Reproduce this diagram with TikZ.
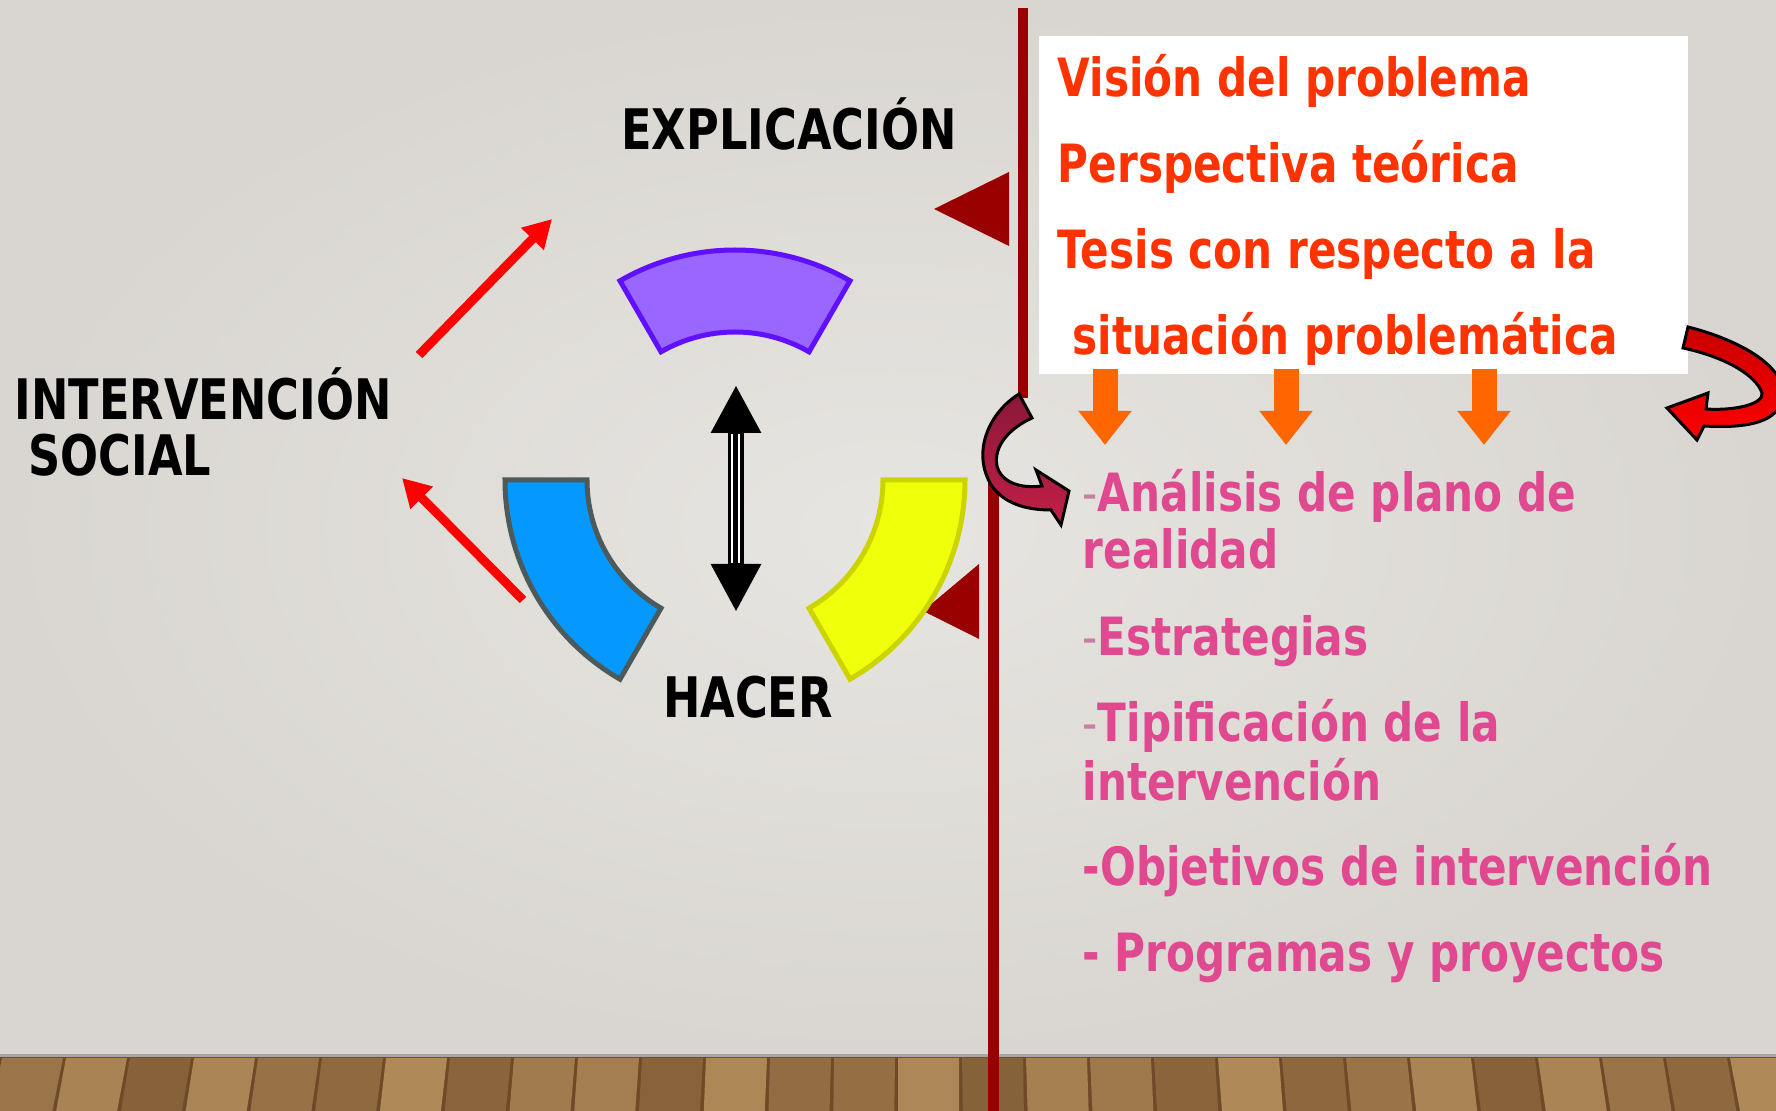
\documentclass[tikz,border=0pt]{standalone}
\usepackage{fontspec}
\setmainfont{DejaVu Sans}[FakeStretch=0.8]
\usetikzlibrary{arrows.meta}

\definecolor{wallgray}{HTML}{E7E5E1}
\definecolor{walledge}{HTML}{D9D6D1}
\definecolor{linered}{HTML}{990000}
\definecolor{visionred}{HTML}{FF3300}
\definecolor{itempink}{HTML}{E0488F}
\definecolor{dashpink}{HTML}{C97FA3}
\definecolor{tipsorange}{HTML}{FF6600}
\definecolor{secpurple}{HTML}{9966FF}
\definecolor{secpurpleline}{HTML}{6010FF}
\definecolor{secblue}{HTML}{0599FF}
\definecolor{secblueline}{HTML}{4C5A5C}
\definecolor{secyellow}{HTML}{F0FF0A}
\definecolor{secyellowline}{HTML}{CCD400}
\definecolor{curldark}{HTML}{8A1838}
\definecolor{curllight}{HTML}{C31F47}
\definecolor{loopdark}{HTML}{C80000}
\definecolor{woodlight}{HTML}{B8925F}
\definecolor{wooddark}{HTML}{6E4A28}

\tikzset{
  blacklabel/.style={font=\fontsize{15.9}{19}\selectfont\bfseries, inner sep=0pt},
  boxline/.style={font=\fontsize{15}{18}\selectfont\bfseries, text=visionred, inner sep=0pt, anchor=base west},
  itemline/.style={font=\fontsize{15}{18}\selectfont\bfseries, text=itempink, inner sep=0pt, anchor=base west},
  redpush/.style={red, line width=0.9mm, -{Triangle[width=3mm,length=2.8mm]}},
  downpoint/.style={tipsorange, line width=2.5mm, -{Triangle[width=5.1mm,length=3.4mm]}},
  ringline/.style={line width=0.5mm, line join=miter}
}

% one piece of the ring round (735,480)
\newcommand{\ringpart}[3]{%
  \draw[ringline,#3] (#1:148) arc[start angle=#1, end angle=#2, radius=148]
    -- (#2:230) arc[start angle=#2, end angle=#1, radius=230] -- cycle;}
\newcommand{\thindash}{{\mdseries\color{dashpink}-}}

\begin{document}
\begin{tikzpicture}[x=0.1mm, y=-0.1mm]
\useasboundingbox (0,0) rectangle (1776,1111);
\clip (0,0) rectangle (1776,1111);

% wall and floor
\shade[inner color=wallgray, outer color=walledge] (0,0) rectangle (1776,1057);
\fill[wooddark] (0,1057) rectangle (1776,1111);
\foreach \i in {0,...,27}{
  \pgfmathsetmacro\tone{60+28*sin(\i*137)}
  \fill[woodlight!\tone!wooddark] ({\i*64+2},1058) -- ({\i*64+63},1058)
    -- ({\i*64+63+(\i*64-888)*0.012},1111) -- ({\i*64+2+(\i*64-888)*0.012},1111) -- cycle;
}
\draw[gray!70, line width=0.3mm] (0,1056) -- (1776,1056);

% dividing bars and pointers
\draw[linered, line width=1mm] (1023,8) -- (1023,398);
\draw[linered, line width=1.1mm] (993,476) -- (993,1111);
\fill[linered] (934,209) -- (1009,172) -- (1009,246) -- cycle;
\fill[linered] (923,611) -- (979,564) -- (979,639) -- cycle;

% the ring
\begin{scope}[shift={(735,480)}]
\ringpart{-120}{-60}{fill=secpurple, draw=secpurpleline}
\ringpart{120}{180}{fill=secblue, draw=secblueline}
\ringpart{0}{60}{fill=secyellow, draw=secyellowline}
\end{scope}

% up and down
\coordinate (dtop) at (736,385);
\coordinate (dbot) at (736,612);
\draw[line width=1.6mm, {Triangle[width=4.7mm,length=4.8mm]}-{Triangle[width=4.7mm,length=4.8mm]}] (dtop) -- (dbot);
\draw[white, line width=0.25mm] (732,434) -- (732,563) (739,434) -- (739,563);

% red pointers
\coordinate (upstart) at (419,355);
\coordinate (upend) at (552,219);
\coordinate (lowstart) at (523,600);
\coordinate (lowend) at (402,478);
\draw[redpush] (upstart) -- (upend);
\draw[redpush] (lowstart) -- (lowend);

% white box
\fill[white] (1039,36) rectangle (1688,374);

% orange pointers
\foreach \x/\nm in {1105/a,1286/b,1484/c}{
  \coordinate (otop\nm) at (\x,369);
  \coordinate (obot\nm) at (\x,445);
  \draw[downpoint] (otop\nm) -- (obot\nm);
}

% curved arrows
\shadedraw[top color=curldark, bottom color=curllight, draw=black, line width=0.3mm]
  (1019,394) .. controls (990,412) and (972,450) .. (990,483)
  .. controls (1002,503) and (1025,510) .. (1051,510)
  -- (1061,525) -- (1069,491) -- (1036,470) -- (1042,486)
  .. controls (1020,489) and (1001,482) .. (997,466)
  .. controls (993,446) and (1010,428) .. (1032,418) -- cycle;
\shadedraw[top color=loopdark, bottom color=red, draw=black, line width=0.3mm]
  (1688,327) .. controls (1740,340) and (1790,368) .. (1782,400)
  .. controls (1776,425) and (1740,428) .. (1704,426)
  -- (1697,440) -- (1667,408) -- (1708,393) -- (1706,409)
  .. controls (1735,411) and (1764,404) .. (1762,393)
  .. controls (1756,375) and (1725,357) .. (1683,348) -- cycle;

% labels
\node[blacklabel, anchor=base] (explic) at (789,150) {EXPLICACIÓN};
\node[blacklabel, anchor=base west] (interv) at (14,420) {INTERVENCIÓN};
\node[blacklabel, anchor=base west] (social) at (28,476) {SOCIAL};
\node[blacklabel, anchor=base] (hacer) at (748,718) {HACER};

\node[boxline] (vision) at (1057,97) {Visión del problema};
\node[boxline] (perspec) at (1057,183) {Perspectiva teórica};
\node[boxline] (tesis) at (1057,269) {Tesis con respecto a la};
\node[boxline] (situa) at (1072,355) {situación problemática};

\node[itemline] (analisis) at (1082,512) {\thindash Análisis de plano de};
\node[itemline] (realidad) at (1082,569) {realidad};
\node[itemline] (estrat) at (1082,656) {\thindash Estrategias};
\node[itemline] (tipif) at (1082,742) {\thindash Tipificación de la};
\node[itemline] (intervb) at (1082,801) {intervención};
\node[itemline] (objet) at (1082,886) {-Objetivos de intervención};
\node[itemline] (progr) at (1082,972) {- Programas y proyectos};
\end{tikzpicture}
\end{document}
